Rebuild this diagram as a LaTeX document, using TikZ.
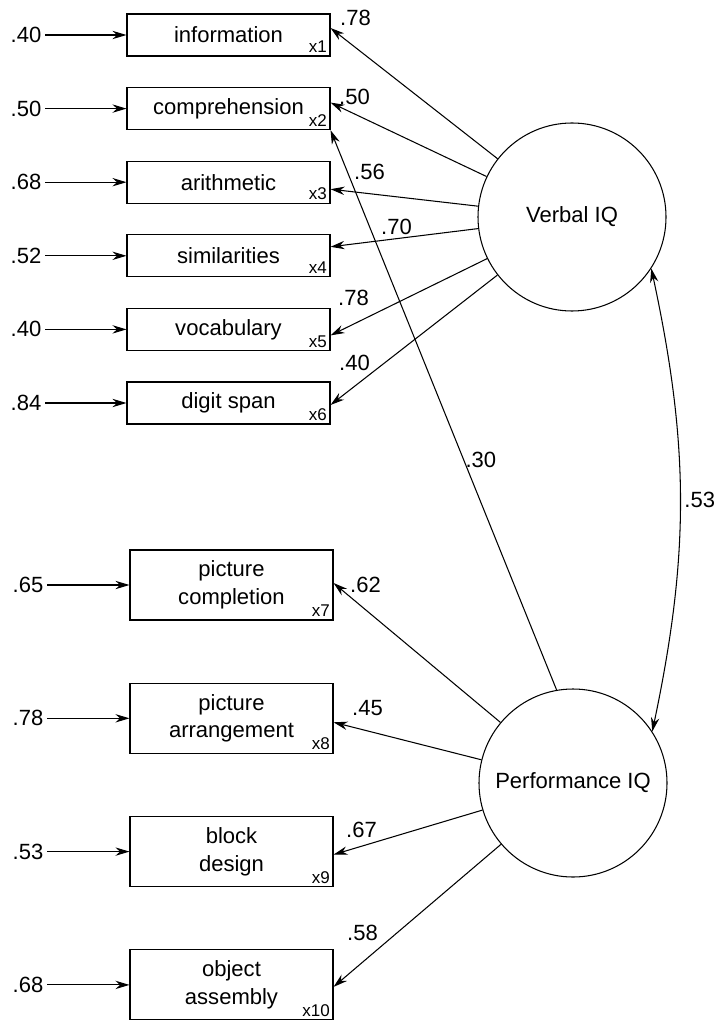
\documentclass[tikz,border=0pt]{standalone}
\usepackage{fontspec}
\setmainfont{Liberation Sans}
\usetikzlibrary{arrows.meta,calc}
\newcommand{\BoxX}{228.5}
\newcommand{\LowBoxX}{231.5}
\newcommand{\ErrX}{26}
\newcommand{\TopY}{35}
\newcommand{\TopGap}{73.6}
\newcommand{\LowY}{585}
\newcommand{\LowGap}{133.3}

\begin{document}
\begin{tikzpicture}[
    x=0.03cm, y=-0.03cm,
    font=\fontsize{18.8}{23.8}\selectfont,
    edge/.style={-{Stealth[length=4.2mm, width=2.5mm]}, line width=0.9pt},
    twoway/.style={{Stealth[length=4.2mm, width=2.5mm]}-{Stealth[length=4.2mm, width=2.5mm]}, line width=0.9pt},
    measure/.style={draw, line width=0.9pt, minimum width=6.09cm, minimum height=1.26cm, align=center},
    tallmeasure/.style={measure, minimum height=2.1cm},
    factor/.style={circle, draw, line width=0.9pt, minimum size=5.64cm, inner sep=0pt},
    tag/.style={anchor=south east, inner sep=3pt, font=\fontsize{14.5}{14.5}\selectfont},
  ]
\useasboundingbox (0,0) rectangle (725,1021);

% --- Verbal subtests, each with its error term ---------------------------------------
\foreach \i/\name/\err [evaluate=\i as \y using \TopY+(\i-1)*\TopGap] in {
    1/information/.40,
    2/comprehension/.50,
    3/arithmetic/.68,
    4/similarities/.52,
    5/vocabulary/.40,
    6/digit span/.84} {
  \node[measure] (x\i) at (\BoxX, \y) {\name};
  \node[tag] (t\i) at (x\i.south east) {x\i};
  \node (e\i) at (\ErrX, \y) {\err};
  \draw[edge] (e\i) -- (x\i);
}

% --- Performance subtests ------------------------------------------------------------
\foreach \i/\name/\err [evaluate=\i as \y using \LowY+(\i-7)*\LowGap] in {
    7/{picture\\completion}/.65,
    8/{picture\\arrangement}/.78,
    9/{block\\design}/.53,
    10/{object\\assembly}/.68} {
  \node[tallmeasure] (x\i) at (\LowBoxX, \y) {\name};
  \node[tag] (t\i) at (x\i.south east) {x\i};
  \node (e\i) at (\ErrX+2, \y) {\err};
  \draw[edge] (e\i) -- (x\i);
}

% --- The two factors and their loadings ----------------------------------------------
\node[factor] (VIQ) at (572, 217) {Verbal IQ};
\node[factor] (PIQ) at (573, 783) {Performance IQ};

\foreach \i/\dy/\w/\dx/\ly in {1/-7/.78/25/-10, 2/-6/.50/24/-6, 3/7/.56/39/-17,
                               4/-9/.70/66/-20, 5/6/.78/23/-37, 6/2/.40/24/-42} {
  \draw[edge] (VIQ) -- node[pos=1, shift={(\dx,\ly)}] (l\i) {\w} ($(x\i.east)+(0,\dy)$);
}
\foreach \i/\dy/\w/\dx/\ly in {7/-2/.62/32/2, 8/4/.45/34/-14, 9/3/.67/28/-25, 10/2/.58/29/-54} {
  \draw[edge] (PIQ) -- node[pos=1, shift={(\dx,\ly)}] (l\i) {\w} ($(x\i.east)+(0,\dy)$);
}

% cross loading and factor correlation
\draw[edge] (PIQ.100) -- node[pos=0.41, right, inner sep=1pt] (l0) {.30} (x2.south east);
\draw[twoway] (VIQ.-33) to[bend left=12] node[midway, right] (r) {.53} (PIQ.33);

\end{tikzpicture}
\end{document}
